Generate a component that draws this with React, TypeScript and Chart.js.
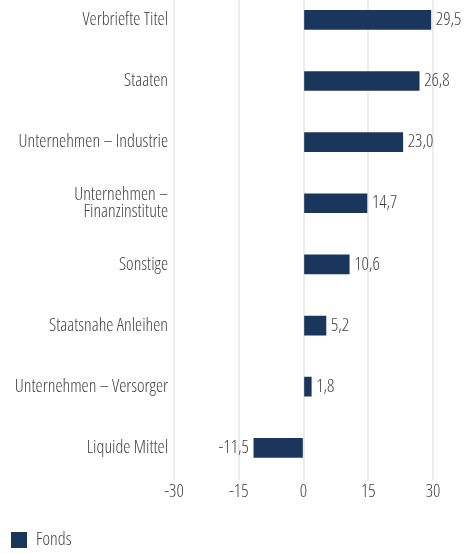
import React, { useEffect, useRef } from "react";
import { Chart, registerables } from "chart.js";

Chart.register(...registerables);

const categories: (string | string[])[] = [
  "Verbriefte Titel",
  "Staaten",
  "Unternehmen – Industrie",
  ["Unternehmen –", "Finanzinstitute"],
  "Sonstige",
  "Staatsnahe Anleihen",
  "Unternehmen – Versorger",
  "Liquide Mittel",
];
const fondsValues = [29.5, 26.8, 23.0, 14.7, 10.6, 5.2, 1.8, -11.5];
const xTicks = [-30, -15, 0, 15, 30];
const seriesName = "Fonds";

const FAMILY = "'Open Sans', sans-serif";
const WEIGHT = "ultra-condensed 300";
const SIZE = 18;
const TEXT = "#444444";
const BAR = "#1b365d";

const fmt = (v: number) => v.toFixed(1).replace(".", ",");

const valueLabels = {
  id: "valueLabels",
  afterDatasetsDraw(chart: any) {
    const ctx = chart.ctx;
    const meta = chart.getDatasetMeta(0);
    ctx.save();
    ctx.font = `${WEIGHT} ${SIZE}px ${FAMILY}`;
    ctx.fillStyle = TEXT;
    ctx.textBaseline = "middle";
    meta.data.forEach((bar: any, i: number) => {
      const v = fondsValues[i];
      if (v >= 0) {
        ctx.textAlign = "left";
        ctx.fillText(fmt(v), bar.x + 5, bar.y);
      } else {
        ctx.textAlign = "right";
        ctx.fillText(fmt(v), bar.x - 5, bar.y);
      }
    });
    ctx.restore();
  },
};

const font = (lineHeight = 1.2) =>
  ({ family: FAMILY, size: SIZE, weight: WEIGHT, lineHeight } as any);

export default function App() {
  const ref = useRef<HTMLCanvasElement>(null);
  useEffect(() => {
    if (!ref.current) return;
    const chart = new Chart(ref.current, {
      type: "bar",
      data: {
        labels: categories,
        datasets: [
          {
            label: seriesName,
            data: fondsValues,
            backgroundColor: BAR,
            barThickness: 19,
          },
        ],
      },
      options: {
        indexAxis: "y",
        animation: false,
        responsive: false,
        maintainAspectRatio: false,
        layout: { padding: { top: 8, right: 36, left: 0, bottom: 4 } },
        scales: {
          x: {
            min: -30,
            max: 30,
            afterBuildTicks: (scale: any) => {
              scale.ticks = xTicks.map((v) => ({ value: v }));
            },
            afterFit: (scale: any) => {
              scale.height += 16;
            },
            grid: { color: "#ececec", lineWidth: 2, drawTicks: true, tickLength: 2 },
            border: { display: false },
            ticks: {
              color: TEXT,
              font: font(),
              padding: 1,
              maxRotation: 0,
            },
          },
          y: {
            grid: { display: false, drawTicks: false },
            border: { display: false },
            afterFit: (scale: any) => {
              scale.width = 174;
            },
            ticks: {
              color: TEXT,
              font: font(0.92),
              padding: 6,
            },
          },
        },
        plugins: {
          legend: {
            position: "bottom",
            align: "start",
            labels: {
              color: TEXT,
              font: font(),
              boxWidth: 16,
              boxHeight: 16,
              padding: 11,
            },
          },
          tooltip: { enabled: false },
        },
      },
      plugins: [valueLabels],
    });
    return () => chart.destroy();
  }, []);
  return (
    <div style={{ position: "absolute", left: 0, top: -25, width: 469, height: 588 }}>
      <canvas ref={ref} width={469} height={588} style={{ display: "block" }} />
    </div>
  );
}
